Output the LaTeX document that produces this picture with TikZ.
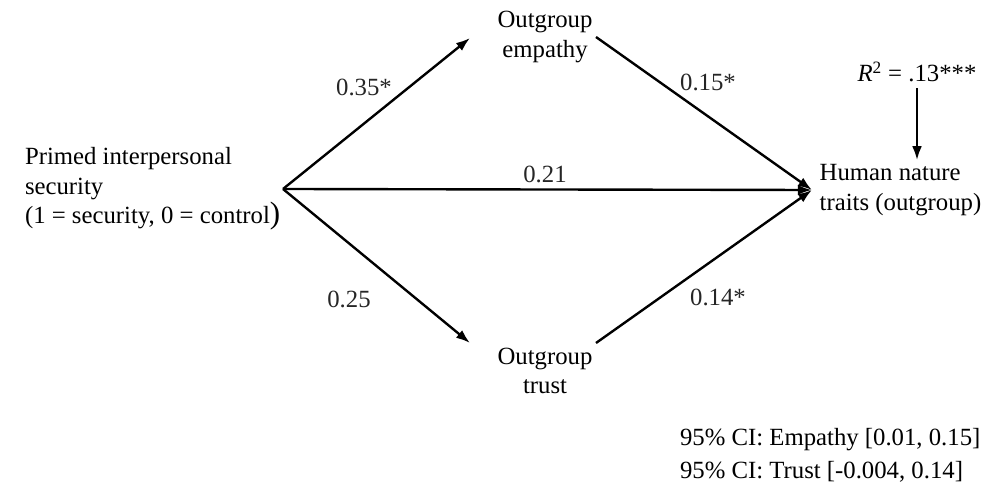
\documentclass[tikz,border=0pt]{standalone}
\usepackage{fontspec}
\setmainfont{Liberation Serif}
\usetikzlibrary{arrows.meta}
\begin{document}
\begin{tikzpicture}[
            x=0.025cm, y=-0.025cm,
            link/.style={draw=black, line width=1.7pt, -{Latex[length=10pt, width=7pt]}},
            var/.style={font=\fontsize{17.6}{21}\selectfont, inner sep=0pt, outer sep=0pt},
            coef/.style={font=\fontsize{17.6}{21}\selectfont, text=black!85}
        ]
            % frame
            \useasboundingbox (0, 0) rectangle (990, 490);
            % variables
            \node[var, align=left, anchor=east, inner xsep=2pt] (prime) at (283, 189) {Primed interpersonal\\security\\(1 = security, 0 = control{\fontsize{22}{21}\selectfont)}};
            \node[var, align=center] (empathy) at (545, 37) {Outgroup\\empathy};
            \node[var, align=center] (trust) at (545, 371) {Outgroup\\trust};
            \node[var, align=left, anchor=west, inner xsep=5.5pt, inner ysep=3pt] (nature) at (812, 190) {Human nature\\traits (outgroup)};
            \node[var] (rsq) at (917, 72) {\textit{R}\textsuperscript{2} = .13***};
            % ports
            \coordinate (empIn) at (470, 38);
            \coordinate (empOut) at (596, 37);
            \coordinate (trIn) at (470, 343);
            \coordinate (trOut) at (596, 343);
            % lines
            \draw[link] (prime.east) -- (empIn);
            \draw[link] (prime.east) -- (trIn);
            \draw[link] (prime.east) -- (nature.west);
            \draw[link] (empOut) -- (nature.west);
            \draw[link] (trOut) -- (nature.west);
            \draw[link] ([yshift=-0.15cm]rsq.south) -- (rsq.south |- nature.north);
            % numbers
            \node[coef] (bEmp) at (364, 87) {0.35*};
            \node[coef] (bEmpOut) at (708, 82) {0.15*};
            \node[coef] (bDirect) at (545, 174) {0.21};
            \node[coef] (bTr) at (349, 299) {0.25};
            \node[coef] (bTrOut) at (718, 297) {0.14*};
            % intervals
            \node[var, anchor=west] (ciEmp) at (680, 440) {95\% CI: Empathy [0.01, 0.15]};
            \node[var, anchor=west] (ciTr) at (680, 472) {95\% CI: Trust [-0.004, 0.14]};
        \end{tikzpicture}
\end{document}
